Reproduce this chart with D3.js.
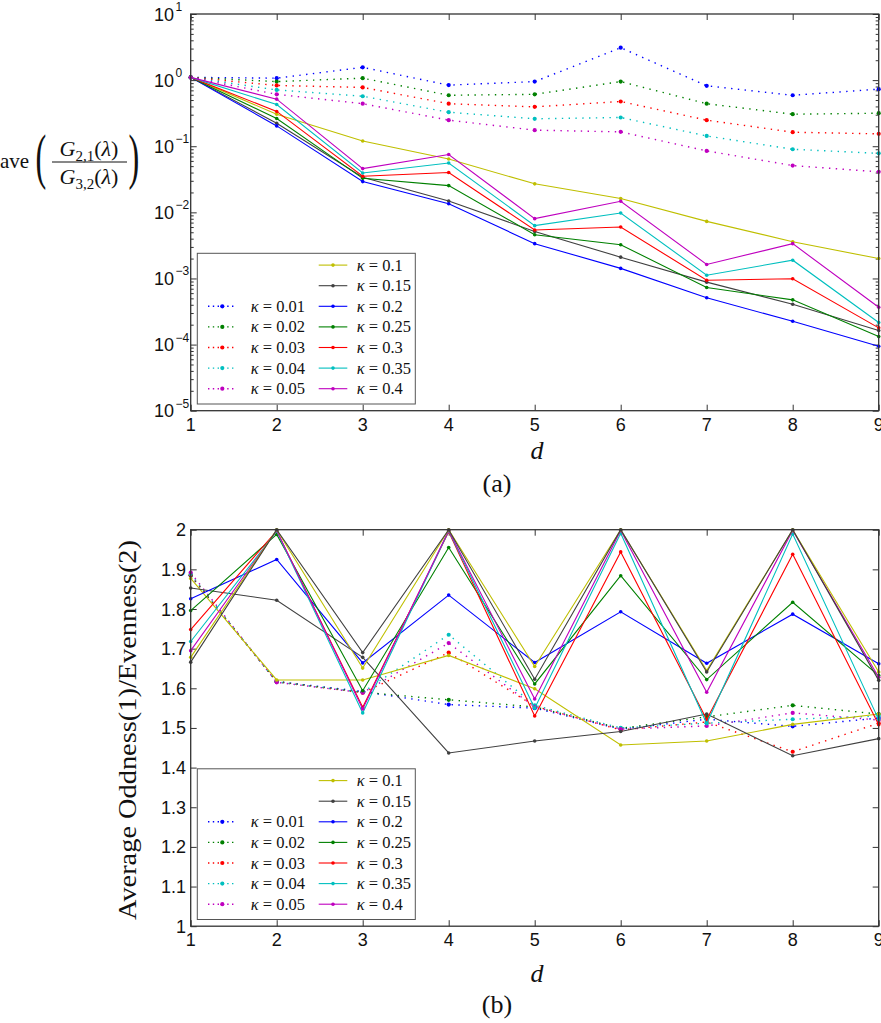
<!DOCTYPE html>
<html><head><meta charset="utf-8">
<script src="https://cdn.jsdelivr.net/npm/d3@7"></script>
<style>body{margin:0;background:#fff}svg{display:block}</style>
</head><body>
<svg id="chart" width="881" height="1023"></svg>
<script>
// ---------- data ----------
const dValues = [1, 2, 3, 4, 5, 6, 7, 8, 9];
const kappaLabels = ["0.01", "0.02", "0.03", "0.04", "0.05", "0.1", "0.15", "0.2", "0.25", "0.3", "0.35", "0.4"];

// panel (a): ave(G21/G32)
const ratio_k001 = [1.10, 1.07, 1.56, 0.84, 0.95, 3.09, 0.82, 0.59, 0.73];
const ratio_k002 = [1.10, 0.95, 1.07, 0.59, 0.61, 0.95, 0.44, 0.305, 0.316];
const ratio_k003 = [1.10, 0.83, 0.775, 0.44, 0.394, 0.475, 0.248, 0.163, 0.154];
const ratio_k004 = [1.10, 0.71, 0.57, 0.327, 0.26, 0.272, 0.143, 0.090, 0.078];
const ratio_k005 = [1.10, 0.61, 0.44, 0.248, 0.175, 0.165, 0.085, 0.051, 0.041];
const ratio_k010 = [1.10, 0.305, 0.12, 0.064, 0.027, 0.0162, 0.0073, 0.0036, 0.0020];
const ratio_k015 = [1.10, 0.223, 0.034, 0.0148, 0.00515, 0.0021, 0.00088, 0.000408, 0.000163];
const ratio_k020 = [1.10, 0.203, 0.0292, 0.0135, 0.00336, 0.00142, 0.00051, 0.000225, 0.0000942];
const ratio_k025 = [1.10, 0.263, 0.0327, 0.0254, 0.00459, 0.00324, 0.00073, 0.000475, 0.000132];
const ratio_k030 = [1.10, 0.336, 0.0351, 0.040, 0.0054, 0.0060, 0.00094, 0.00099, 0.000179];
const ratio_k035 = [1.10, 0.428, 0.0394, 0.0558, 0.00629, 0.00976, 0.00112, 0.00189, 0.000216];
const ratio_k040 = [1.10, 0.515, 0.0459, 0.0749, 0.00803, 0.0147, 0.00163, 0.00336, 0.000367];

// panel (b): average Oddness(1)/Evenness(2)
const odd_k001 = [1.884, 1.617, 1.592, 1.559, 1.550, 1.497, 1.522, 1.504, 1.525];
const odd_k002 = [1.885, 1.617, 1.590, 1.571, 1.553, 1.499, 1.528, 1.557, 1.535];
const odd_k003 = [1.886, 1.616, 1.589, 1.690, 1.555, 1.495, 1.515, 1.440, 1.512];
const odd_k004 = [1.888, 1.616, 1.590, 1.735, 1.557, 1.500, 1.512, 1.522, 1.530];
const odd_k005 = [1.892, 1.615, 1.589, 1.714, 1.553, 1.497, 1.505, 1.538, 1.520];
const odd_k010 = [1.877, 1.621, 1.621, 1.683, 1.599, 1.457, 1.467, 1.509, 1.535];
const odd_k015 = [1.853, 1.822, 1.678, 1.437, 1.467, 1.491, 1.535, 1.430, 1.473];
const odd_k020 = [1.826, 1.925, 1.664, 1.835, 1.665, 1.793, 1.663, 1.787, 1.662];
const odd_k025 = [1.796, 1.988, 1.594, 1.955, 1.611, 1.884, 1.622, 1.817, 1.632];
const odd_k030 = [1.748, 1.997, 1.552, 1.995, 1.530, 1.944, 1.521, 1.938, 1.508];
const odd_k035 = [1.718, 1.996, 1.538, 1.997, 1.550, 1.991, 1.511, 1.989, 1.521];
const odd_k040 = [1.695, 1.998, 1.548, 1.998, 1.573, 1.998, 1.590, 1.998, 1.628];
// two further curves drawn in panel (b) without legend entries
const odd_extraYellow = [1.678, 2.0, 1.651, 2.0, 1.655, 2.0, 1.645, 2.0, 1.641];
const odd_extraGray = [1.666, 2.0, 1.690, 2.0, 1.623, 2.0, 1.641, 2.0, 1.620];

const xTickLabels = ["1", "2", "3", "4", "5", "6", "7", "8", "9"];
const logTickExponents = [1, 0, -1, -2, -3, -4, -5];
const linTickValues = [1, 1.1, 1.2, 1.3, 1.4, 1.5, 1.6, 1.7, 1.8, 1.9, 2];
const linTickLabels = ["1", "1.1", "1.2", "1.3", "1.4", "1.5", "1.6", "1.7", "1.8", "1.9", "2"];

// ---------- styles ----------
const C = {b: "#0000ff", g: "#008000", r: "#ff0000", c: "#00bfbf", m: "#bf00bf", y: "#bfbf00", k: "#404040"};
const seriesColors = [C.b, C.g, C.r, C.c, C.m, C.y, C.k, C.b, C.g, C.r, C.c, C.m];
const seriesDotted = [true, true, true, true, true, false, false, false, false, false, false, false];

const ratioSeries = [ratio_k001, ratio_k002, ratio_k003, ratio_k004, ratio_k005, ratio_k010, ratio_k015, ratio_k020, ratio_k025, ratio_k030, ratio_k035, ratio_k040];
const oddSeries = [odd_k001, odd_k002, odd_k003, odd_k004, odd_k005, odd_k010, odd_k015, odd_k020, odd_k025, odd_k030, odd_k035, odd_k040];

const svg = d3.select("#chart");
const SANS = "'Liberation Sans', Arial, sans-serif";
const SERIF = "'Liberation Serif', 'Times New Roman', serif";

const X0 = 190.7, X1 = 878.7;
const x = d3.scaleLinear().domain([1, 9]).range([X0, X1]);

function buildSeries(arrs, extra) {
  const out = arrs.map((a, i) => ({
    label: kappaLabels[i], color: seriesColors[i], dotted: seriesDotted[i],
    pts: a.map((v, j) => ({d: dValues[j], v}))
  }));
  (extra || []).forEach(e => out.push({label: null, color: e.color, dotted: false, pts: e.vals.map((v, j) => ({d: dValues[j], v}))}));
  return out;
}

function drawPanel(y, top, bot, series, isLog) {
  const g = svg.append("g");
  const clipId = "clip" + Math.round(top);
  svg.append("clipPath").attr("id", clipId).append("rect")
    .attr("x", X0 - 3).attr("y", top - 3).attr("width", X1 - X0 + 6).attr("height", bot - top + 6);

  // ticks (inward on all four sides)
  const xt = dValues;
  const gx = g.append("g");
  gx.append("g").attr("transform", `translate(0,${bot})`).call(d3.axisBottom(x).tickValues(xt).tickSize(-6).tickFormat(""));
  gx.append("g").attr("transform", `translate(0,${top})`).call(d3.axisTop(x).tickValues(xt).tickSize(-6).tickFormat(""));
  const gy = g.append("g");
  if (isLog) {
    const major = logTickExponents.map(e => Math.pow(10, e));
    const minor = [];
    for (let e = -5; e < 1; e++) for (let k = 2; k <= 9; k++) minor.push(k * Math.pow(10, e));
    gy.append("g").attr("transform", `translate(${X0},0)`).call(d3.axisLeft(y).tickValues(major).tickSize(-6).tickFormat(""));
    gy.append("g").attr("transform", `translate(${X1},0)`).call(d3.axisRight(y).tickValues(major).tickSize(-6).tickFormat(""));
    gy.append("g").attr("transform", `translate(${X0},0)`).call(d3.axisLeft(y).tickValues(minor).tickSize(-3).tickFormat(""));
    gy.append("g").attr("transform", `translate(${X1},0)`).call(d3.axisRight(y).tickValues(minor).tickSize(-3).tickFormat(""));
  } else {
    gy.append("g").attr("transform", `translate(${X0},0)`).call(d3.axisLeft(y).tickValues(linTickValues).tickSize(-6).tickFormat(""));
    gy.append("g").attr("transform", `translate(${X1},0)`).call(d3.axisRight(y).tickValues(linTickValues).tickSize(-6).tickFormat(""));
  }
  g.selectAll(".domain").remove();
  g.selectAll(".tick line").attr("stroke", "#333").attr("stroke-width", 1);

  // series
  const line = d3.line().x(p => x(p.d)).y(p => y(p.v));
  const sg = g.append("g").attr("clip-path", `url(#${clipId})`);
  series.forEach(s => {
    sg.append("path").attr("d", line(s.pts)).attr("fill", "none").attr("stroke", s.color)
      .attr("stroke-width", s.dotted ? 1.4 : 1.1)
      .attr("stroke-dasharray", s.dotted ? "1.4,5.4" : null);
    sg.selectAll(null).data(s.pts).enter().append("circle")
      .attr("cx", p => x(p.d)).attr("cy", p => y(p.v)).attr("r", s.dotted ? 2.1 : 1.8).attr("fill", s.color);
  });

  // frame
  g.append("rect").attr("x", X0).attr("y", top).attr("width", X1 - X0).attr("height", bot - top)
    .attr("fill", "none").attr("stroke", "#333").attr("stroke-width", 1.3);

  // x tick labels
  g.selectAll(null).data(dValues).enter().append("text")
    .attr("x", d => x(d)).attr("y", bot + 20).attr("text-anchor", "middle")
    .attr("font-family", SANS).attr("font-size", 18).attr("fill", "#111")
    .text((d, i) => xTickLabels[i]);

  // y tick labels
  if (isLog) {
    logTickExponents.forEach(e => {
      const yy = y(Math.pow(10, e));
      g.append("text").attr("x", 174).attr("y", yy + 6.5).attr("text-anchor", "end")
        .attr("font-family", SANS).attr("font-size", 18).attr("fill", "#111").text("10");
      g.append("text").attr("x", 175.5).attr("y", yy - 3).attr("text-anchor", "start")
        .attr("font-family", SANS).attr("font-size", 12).attr("fill", "#111")
        .text(e < 0 ? "\u2212" + (-e) : String(e));
    });
  } else {
    linTickValues.forEach((v, i) => {
      g.append("text").attr("x", 186).attr("y", y(v) + 6.5).attr("text-anchor", "end")
        .attr("font-family", SANS).attr("font-size", 18).attr("fill", "#111").text(linTickLabels[i]);
    });
  }

  // legend
  const lx = 197.3, lw = 218, lh = 150.7, ly = bot - 6.7 - lh;
  const lg = g.append("g");
  lg.append("rect").attr("x", lx).attr("y", ly).attr("width", lw).attr("height", lh)
    .attr("fill", "#fff").attr("stroke", "#555").attr("stroke-width", 1);
  const rowH = 20.6, row0 = ly + 11.8;
  series.filter(s => s.label).forEach((s, i) => {
    let col, row;
    if (i < 5) { col = 0; row = i + 2; } else { col = 1; row = i - 5; }
    const yy = row0 + row * rowH;
    const x0 = col === 0 ? lx + 10.7 : lx + 121.4;
    const tx = col === 0 ? lx + 53.4 : lx + 159.4;
    lg.append("line").attr("x1", x0).attr("x2", x0 + 28.6).attr("y1", yy).attr("y2", yy)
      .attr("stroke", s.color).attr("stroke-width", s.dotted ? 1.4 : 1.1)
      .attr("stroke-dasharray", s.dotted ? "1.4,3.4" : null);
    lg.append("circle").attr("cx", x0 + 14.3).attr("cy", yy).attr("r", s.dotted ? 2.1 : 1.8).attr("fill", s.color);
    const t = lg.append("text").attr("x", tx).attr("y", yy + 5.5).attr("font-family", SERIF).attr("font-size", 16.5).attr("fill", "#111");
    t.append("tspan").attr("font-style", "italic").text("\u03ba");
    t.append("tspan").text(" = " + s.label);
  });
  return g;
}

// ---------- panel (a) ----------
const topA = 14, botA = 410.7;
const yA = d3.scaleLog().domain([1e-5, 10]).range([botA, topA]);
drawPanel(yA, topA, botA, buildSeries(ratioSeries), true);

// ---------- panel (b) ----------
const topB = 529.7, botB = 926.2;
const yB = d3.scaleLinear().domain([1, 2]).range([botB, topB]);
drawPanel(yB, topB, botB, buildSeries(oddSeries, [{color: C.y, vals: odd_extraYellow}, {color: C.k, vals: odd_extraGray}]), false);

// ---------- labels ----------
function label(xp, yp, txt, size, italic, anchor) {
  return svg.append("text").attr("x", xp).attr("y", yp).attr("font-family", SERIF).attr("font-size", size)
    .attr("font-style", italic ? "italic" : "normal").attr("text-anchor", anchor || "middle").attr("fill", "#111").text(txt);
}
label(537, 459, "d", 26, true);
label(497, 492, "(a)", 26, false);
label(537, 982, "d", 26, true);
label(497, 1013, "(b)", 26, false);

// y label (b)
svg.append("text").attr("transform", "translate(136,730) rotate(-90)")
  .attr("text-anchor", "middle").attr("font-family", SERIF).attr("font-size", 25).attr("fill", "#111")
  .attr("textLength", 380).attr("lengthAdjust", "spacingAndGlyphs")
  .text("Average Oddness(1)/Evenness(2)");

// y label (a): ave( G_{2,1}(λ) / G_{3,2}(λ) )
const barY = 162;
label(0, barY + 6, "ave", 21, false, "start");
function paren(xp, ch) {
  svg.append("text").attr("transform", `translate(${xp},${barY}) scale(0.85,1.6)`)
    .attr("x", 0).attr("y", 9.5).attr("font-family", SERIF).attr("font-size", 38)
    .attr("text-anchor", "middle").attr("fill", "#111").text(ch);
}
paren(41, "(");
paren(134, ")");
function frac(yp, sub) {
  const t = svg.append("text").attr("x", 89).attr("y", yp).attr("text-anchor", "middle")
    .attr("font-family", SERIF).attr("font-size", 22).attr("fill", "#111");
  t.append("tspan").attr("font-style", "italic").text("G");
  t.append("tspan").attr("font-size", 15).attr("dy", 5).text(sub);
  t.append("tspan").attr("dy", -5).text("(");
  t.append("tspan").attr("font-style", "italic").text("\u03bb");
  t.append("tspan").text(")");
}
frac(barY - 6, "2,1");
frac(barY + 22, "3,2");
svg.append("line").attr("x1", 52).attr("x2", 127).attr("y1", barY).attr("y2", barY).attr("stroke", "#111").attr("stroke-width", 1);
</script>
</body></html>
